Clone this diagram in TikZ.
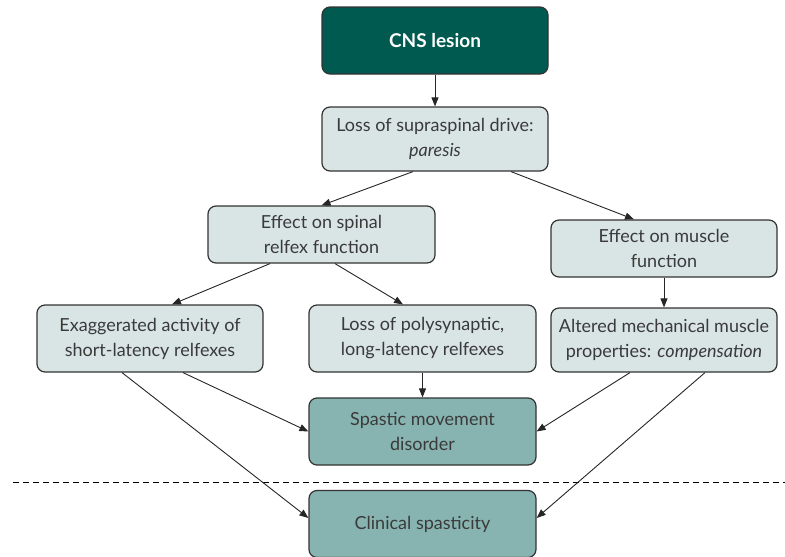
\documentclass[tikz,border=0pt]{standalone}
\usepackage{fontspec}
\setmainfont{Lato}
\usetikzlibrary{arrows.meta}
\definecolor{darkteal}{HTML}{005A50}
\definecolor{lightbox}{HTML}{D9E5E4}
\definecolor{midbox}{HTML}{87B4B0}
\definecolor{edgec}{HTML}{333333}
\definecolor{txt}{HTML}{3A3A3A}
\begin{document}
\begin{tikzpicture}[x=1pt,y=-1pt,
  box/.style={draw=edgec, line width=1.2pt, rounded corners=8pt, align=center,
    inner sep=0pt, font=\fontsize{18}{25}\selectfont, text=txt},
  lbox/.style={box, fill=lightbox},
  mbox/.style={box, fill=midbox},
  arr/.style={-{Triangle[length=9pt,width=7pt]}, line width=0.9pt, draw=black!85}]
\useasboundingbox (0,0) rectangle (785,557);
\node[box, fill=darkteal, text=white, font=\fontsize{19}{25}\selectfont\bfseries,
  minimum width=226pt, minimum height=67pt] (cns) at (435,40.5) {CNS lesion};
\node[lbox, minimum width=226pt, minimum height=64pt] (loss) at (435,139)
  {Loss of supraspinal drive:\\\textit{paresis}};
\node[lbox, minimum width=227pt, minimum height=57pt] (spinal) at (321.5,234.5)
  {Effect on spinal\\relfex function};
\node[lbox, minimum width=226pt, minimum height=57pt] (muscle) at (664,248.5)
  {Effect on muscle\\function};
\node[lbox, minimum width=226pt, minimum height=67pt] (exag) at (150,338.5)
  {Exaggerated activity of\\short-latency relfexes};
\node[lbox, minimum width=227pt, minimum height=67pt] (poly) at (422.5,338.5)
  {Loss of polysynaptic,\\long-latency relfexes};
\node[lbox, minimum width=226pt, minimum height=64pt] (alter) at (664,340)
  {Altered mechanical muscle\\properties: \textit{compensation}};
\node[mbox, minimum width=227pt, minimum height=67pt] (spastic) at (422.5,431.5)
  {Spastic movement\\disorder};
\node[mbox, minimum width=227pt, minimum height=67pt] (clin) at (422.5,524)
  {Clinical spasticity};
\coordinate (dl) at (13,482);
\coordinate (dr) at (785,482);
\draw[dashed, line width=0.9pt, dash pattern=on 6pt off 4pt] (dl) -- (dr);
\draw[arr] (cns.south) -- (loss.north);
\draw[arr] ([xshift=-22pt]loss.south) -- (spinal.north);
\draw[arr] ([xshift=76pt]loss.south) -- ([xshift=-30pt]muscle.north);
\draw[arr] ([xshift=-51.5pt]spinal.south) -- ([xshift=22pt]exag.north);
\draw[arr] ([xshift=13.5pt]spinal.south) -- ([xshift=-19.5pt]poly.north);
\draw[arr] (muscle.south) -- (alter.north);
\draw[arr] (poly.south) -- (spastic.north);
\draw[arr] ([xshift=33pt]exag.south) -- (spastic.west);
\draw[arr] ([xshift=-28pt]exag.south) -- ([yshift=6pt]clin.west);
\draw[arr] ([xshift=-34pt]alter.south) -- (spastic.east);
\draw[arr] ([xshift=41pt]alter.south) -- ([yshift=6pt]clin.east);
\end{tikzpicture}
\end{document}
